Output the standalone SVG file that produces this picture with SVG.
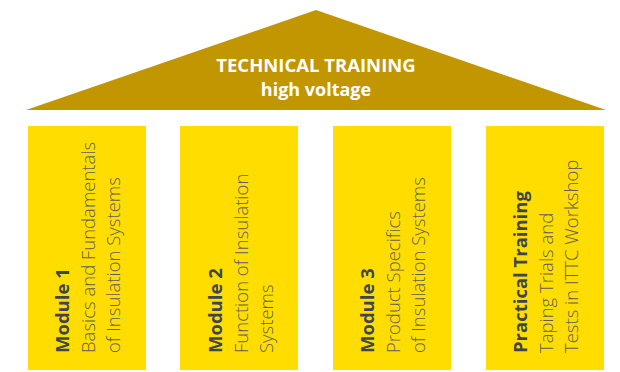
<svg xmlns="http://www.w3.org/2000/svg" width="620" height="372" viewBox="0 0 620 372">
<style>
.roof{fill:#C29600}
.col{fill:#FFDD00}
.t1{font-family:"Open Sans","Liberation Sans",sans-serif;font-weight:700;font-size:18.5px;fill:#fff;text-anchor:middle}
.b{font-family:"Open Sans","Liberation Sans",sans-serif;font-weight:700;font-size:18.5px;fill:#3d4650}
.l{font-family:"Open Sans","Liberation Sans",sans-serif;font-weight:300;font-size:18.5px;fill:#5f5f5f}
</style>
<rect width="620" height="372" fill="#fff"/>
<g id="roof">
<polygon class="roof" points="316,10 606,110 26,110"/>
<text class="t1" x="316" y="72">TECHNICAL TRAINING</text>
<text class="t1" x="316" y="96" style="font-size:18px">high voltage</text>
</g>
<g id="module1">
<rect class="col" x="28" y="126" width="118" height="244"/>
<text transform="translate(69,353) rotate(-90)"><tspan class="b" x="0" y="0">Module 1</tspan><tspan class="l" x="0" y="26">Basics and Fundamentals</tspan><tspan class="l" x="0" y="51">of Insulation Systems</tspan></text>
</g>
<g id="module2">
<rect class="col" x="180" y="126" width="118" height="244"/>
<text transform="translate(222,353) rotate(-90)"><tspan class="b" x="0" y="0">Module 2</tspan><tspan class="l" x="0" y="26">Function of Insulation</tspan><tspan class="l" x="0" y="51">Systems</tspan></text>
</g>
<g id="module3">
<rect class="col" x="333" y="126" width="118" height="244"/>
<text transform="translate(374,353) rotate(-90)"><tspan class="b" x="0" y="0">Module 3</tspan><tspan class="l" x="0" y="26">Product Specifics</tspan><tspan class="l" x="0" y="51">of Insulation Systems</tspan></text>
</g>
<g id="practical">
<rect class="col" x="486" y="126" width="118" height="244"/>
<text transform="translate(527,353) rotate(-90)"><tspan class="b" x="0" y="0">Practical Training</tspan><tspan class="l" x="0" y="26">Taping Trials and</tspan><tspan class="l" x="0" y="51">Tests in ITTC Workshop</tspan></text>
</g>
<g id="connectors"></g>
</svg>
